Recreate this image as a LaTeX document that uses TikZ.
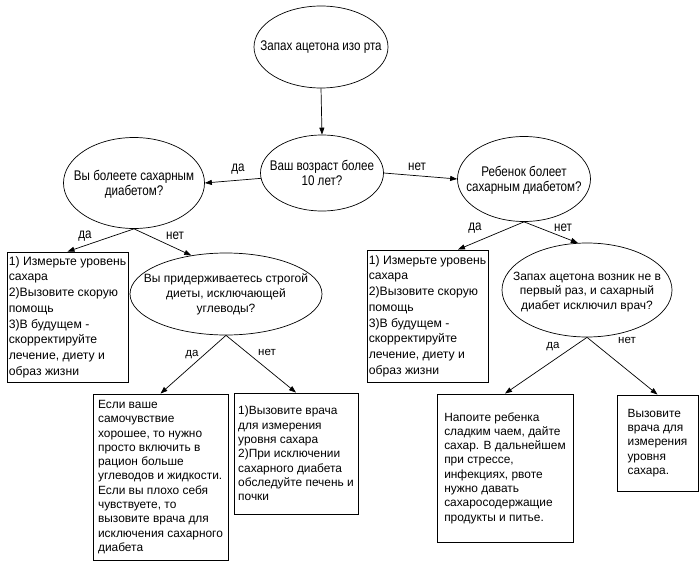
\documentclass[tikz,border=0pt]{standalone}
\usepackage{fontspec}
\setmainfont{Liberation Sans}
\newfontfamily\narfont[FakeStretch=0.83]{Liberation Sans}
\usetikzlibrary{arrows.meta,shapes.geometric,calc}
\begin{document}
\begin{tikzpicture}[x=1pt,y=-1pt,
  ell/.style={draw, ellipse, inner sep=0pt, line width=0.7pt},
  toptxt/.style={align=center, inner sep=0pt, font=\narfont\fontsize{14}{15}\selectfont},
  lowtxt/.style={align=center, inner sep=0pt, font=\fontsize{12}{14.8}\selectfont},
  box/.style={draw, rectangle, inner sep=0pt, align=left, line width=0.9pt},
  boxa/.style={box, font=\fontsize{12.2}{15.7}\selectfont},
  boxb/.style={box, font=\fontsize{11.9}{14.3}\selectfont},
  conn/.style={-{Triangle[length=7pt,width=5pt]}, line width=0.7pt},
  toplab/.style={font=\narfont\fontsize{14}{15}\selectfont, inner sep=0pt},
  lowlab/.style={font=\fontsize{11.5}{13}\selectfont, inner sep=0pt},
]
\useasboundingbox (0,0) rectangle (700,567);
% ellipses
\node[ell, minimum width=134, minimum height=82] (A) at (321,47) {};
\node[toptxt] (At) at (A.center) {Запах ацетона изо рта};
\node[ell, minimum width=123, minimum height=76] (B) at (322,173) {};
\node[toptxt] (Bt) at (B.center) {Ваш возраст более\\10 лет?};
\node[ell, minimum width=141, minimum height=91] (C) at (134,183) {};
\node[toptxt] (Ct) at ([yshift=-1.5]C.center) {Вы болеете сахарным\\диабетом?};
\node[ell, minimum width=133, minimum height=85] (D) at (524,179) {};
\node[toptxt] (Dt) at ([yshift=-1.5]D.center) {Ребенок болеет\\сахарным диабетом?};
\node[ell, minimum width=192, minimum height=82] (F) at (226,294) {};
\node[lowtxt] (Ft) at (F.center) {Вы придерживаетесь строгой\\диеты, исключающей\\углеводы?};
\node[ell, minimum width=170, minimum height=94] (J) at (587,290) {};
\node[lowtxt] (Jt) at ([yshift=-2]J.center) {Запах ацетона возник не в\\первый раз, и сахарный\\диабет исключил врач?};
% boxes
\node[boxa, minimum width=121, minimum height=130] (E) at (67.5,317)
  {1) Измерьте уровень\\сахара\\2)Вызовите скорую\\помощь\\3)В будущем -\\скорректируйте\\лечение, диету и\\образ жизни};
\node[boxa, minimum width=121, minimum height=132] (I) at (427.5,316)
  {1) Измерьте уровень\\сахара\\2)Вызовите скорую\\помощь\\3)В будущем -\\скорректируйте\\лечение, диету и\\образ жизни};
\node[boxb, minimum width=135, minimum height=166] (G) at (160.5,477)
  {Если ваше\\самочувствие\\хорошее, то нужно\\просто включить в\\рацион больше\\углеводов и жидкости.\\Если вы плохо себя\\чувствуете, то\\вызовите врача для\\исключения сахарного\\диабета};
\node[boxb, minimum width=124, minimum height=121] (H) at (296,453.5)
  {1)Вызовите врача\\для измерения\\уровня сахара\\2)При исключении\\сахарного диабета\\обследуйте печень и\\почки};
\node[boxb, minimum width=136, minimum height=148] (K) at (505,468)
  {Напоите ребенка\\сладким чаем, дайте\\сахар. В дальнейшем\\при стрессе,\\инфекциях, рвоте\\нужно давать\\сахаросодержащие\\продукты и питье.};
\node[boxb, minimum width=81, minimum height=96] (L) at (657.5,443)
  {Вызовите\\врача для\\измерения\\уровня\\сахара.};
% connectors
\draw[conn] (A.south) -- (B.north);
\draw[conn] (B.185) -- (C.east);
\draw[conn] (B.east) -- (D.west);
\draw[conn] (C.south) -- (E.north);
\draw[conn] (C.south) -- (F.132);
\draw[conn] (D.south) -- ($(I.north west)!0.75!(I.north east)$);
\draw[conn] (D.south) -- (J.101);
\draw[conn] (F.south) -- (G.north);
\draw[conn] (F.south) -- (H.north);
\draw[conn] (J.south) -- (K.north);
\draw[conn] (J.south) -- (L.north);
% labels
\node[toplab] (l1) at (238,169) {да};
\node[toplab] (l2) at (417,167) {нет};
\node[toplab] (l3) at (85,236) {да};
\node[toplab] (l4) at (175,236) {нет};
\node[toplab] (l5) at (475,228) {да};
\node[toplab] (l6) at (563,228) {нет};
\node[lowlab] (l7) at (192,355) {да};
\node[lowlab] (l8) at (267,352) {нет};
\node[lowlab] (l9) at (553,347) {да};
\node[lowlab] (l10) at (627,340) {нет};
\end{tikzpicture}
\end{document}
